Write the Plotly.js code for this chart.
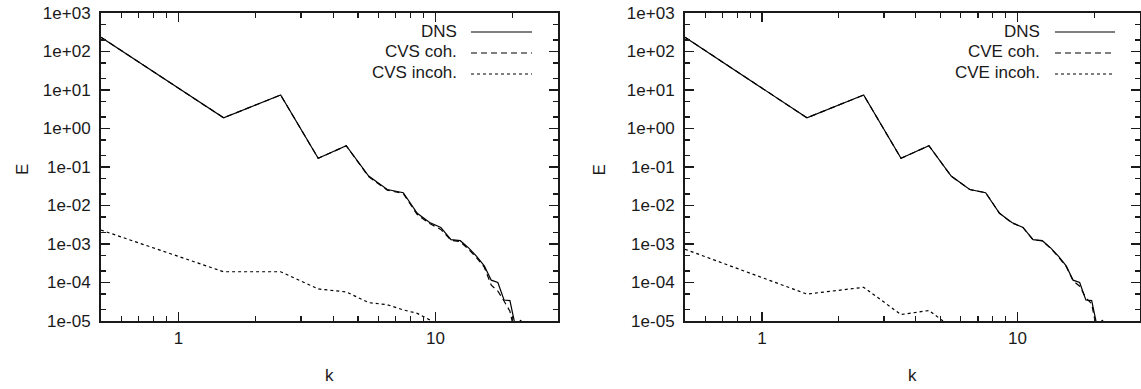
<!DOCTYPE html>
<html>
<head>
<meta charset="utf-8">
<script src="https://cdn.plot.ly/plotly-3.0.1.min.js"></script>
<style>html,body{margin:0;padding:0;background:#fff;}#chart{width:1141px;height:389px;}</style>
</head>
<body>
<div id="chart"></div>
<script>
// wavenumbers (shell centres)
const k = [0.5,1.5,2.5,3.5,4.5,5.5,6.5,7.5,8.5,9.5,10.5,11.5,12.5,13.5,14.5,15.5,16.5,17.5,18.5,19.5,20.5,21.5,22.5];

// DNS spectrum (same in both panels)
const dns = [234,1.9,7.4,0.168,0.358,0.058,0.026,0.0215,0.0063,0.0036,0.0027,0.0013,0.00122,7.8e-4,4.7e-4,2.7e-4,1.15e-4,1.0e-4,3.5e-5,3.4e-5,7e-6,1.06e-5,1e-6];

// left panel: CVS
const cvsCoh = [234,1.9,7.4,0.168,0.355,0.056,0.025,0.0205,0.0058,0.0034,0.0024,0.00125,0.00115,7.2e-4,4.3e-4,2.5e-4,8.5e-5,6e-5,3.3e-5,1.8e-5,4e-6];
const cvsIncoh = [2.3e-3,1.9e-4,1.9e-4,6.8e-5,5.7e-5,3.0e-5,2.65e-5,1.94e-5,1.58e-5,1.07e-5,7e-6];

// right panel: CVE
const cveCoh = [234,1.9,7.4,0.168,0.358,0.058,0.026,0.0215,0.0063,0.0035,0.0027,0.00128,0.0012,7.6e-4,4.5e-4,2.6e-4,1.1e-4,8e-5,4e-5,2.8e-5,5e-6];
const cveIncoh = [7.3e-4,5.0e-5,7.5e-5,1.47e-5,1.87e-5,7e-6];

// tick values / labels
const yTickVals = [1e-5,1e-4,1e-3,1e-2,1e-1,1,1e1,1e2,1e3];
const yTickText = ['1e-05','1e-04','1e-03','1e-02','1e-01','1e+00','1e+01','1e+02','1e+03'];
const yMinorVals = [2e-5,5e-5,2e-4,5e-4,2e-3,5e-3,2e-2,5e-2,0.2,0.5,2,5,20,50,200,500];
const xTickVals = [1,10];
const xTickText = ['1','10'];
const xMinorVals = [0.6,0.7,0.8,0.9,2,3,4,5,6,7,8,9,20,30];

const leftNames = ['DNS','CVS coh.','CVS incoh.'];
const rightNames = ['DNS','CVE coh.','CVE incoh.'];

const W = 1141, H = 389;
const FONT = 'Liberation Sans, Arial, Helvetica, sans-serif';
const INK = '#1a1a1a';
const dashes = ['solid','6px,4px','3px,3px'];

function tr(x, y, xa, ya, d) {
  return {x: x, y: y, xaxis: xa, yaxis: ya, type: 'scatter', mode: 'lines',
          line: {color: '#000', width: 1.2, dash: d}, showlegend: false, hoverinfo: 'skip'};
}

const data = [
  tr(k, dns, 'x', 'y', dashes[0]),
  tr(k.slice(0, cvsCoh.length), cvsCoh, 'x', 'y', dashes[1]),
  tr(k.slice(0, cvsIncoh.length), cvsIncoh, 'x', 'y', dashes[2]),
  tr(k, dns, 'x2', 'y2', dashes[0]),
  tr(k.slice(0, cveCoh.length), cveCoh, 'x2', 'y2', dashes[1]),
  tr(k.slice(0, cveIncoh.length), cveIncoh, 'x2', 'y2', dashes[2])
];

function xAxis(dom, anchor) {
  return {type: 'log', domain: dom, anchor: anchor, range: [Math.log10(0.5), Math.log10(30)],
    tickmode: 'array', tickvals: xTickVals, ticktext: xTickText,
    ticks: 'inside', ticklen: 9, tickwidth: 1.2, tickcolor: INK,
    minor: {tickmode: 'array', tickvals: xMinorVals, ticks: 'inside', ticklen: 5, tickwidth: 1.2, tickcolor: INK, showgrid: false},
    showline: true, linewidth: 2, linecolor: INK, mirror: 'ticks', showgrid: false, zeroline: false,
    tickfont: {family: FONT, size: 17, color: INK}, ticklabelstandoff: 1};
}
function yAxis(anchor) {
  return {type: 'log', domain: [68/H, 376/H], anchor: anchor, range: [-5, 3],
    tickmode: 'array', tickvals: yTickVals, ticktext: yTickText,
    ticks: 'inside', ticklen: 9, tickwidth: 1.2, tickcolor: INK,
    minor: {tickmode: 'array', tickvals: yMinorVals, ticks: 'inside', ticklen: 5, tickwidth: 1.2, tickcolor: INK, showgrid: false},
    showline: true, linewidth: 2, linecolor: INK, mirror: 'ticks', showgrid: false, zeroline: false,
    tickfont: {family: FONT, size: 17, color: INK}, ticklabelstandoff: 5};
}

const annotations = [];
const shapes = [];
function addLegend(names, textRight, lineX0, lineX1) {
  const rows = [31, 52, 73];
  names.forEach((n, i) => {
    annotations.push({xref: 'paper', yref: 'paper', x: textRight / W, y: 1 - rows[i] / H,
      xanchor: 'right', yanchor: 'middle', text: n, showarrow: false,
      font: {family: FONT, size: 17, color: INK}});
    shapes.push({type: 'line', xref: 'paper', yref: 'paper', x0: lineX0 / W, x1: lineX1 / W,
      y0: 1 - (rows[i] + 1) / H, y1: 1 - (rows[i] + 1) / H,
      line: {color: '#000', width: 1.2, dash: dashes[i]}});
  });
}
addLegend(leftNames, 459, 471, 532);
addLegend(rightNames, 1042, 1055, 1115);

function addTitles(eX, kX) {
  annotations.push({xref: 'paper', yref: 'paper', x: eX / W, y: 1 - 170 / H, xanchor: 'center', yanchor: 'middle',
    text: 'E', textangle: -90, showarrow: false, font: {family: FONT, size: 17, color: INK}});
  annotations.push({xref: 'paper', yref: 'paper', x: kX / W, y: 1 - 375 / H, xanchor: 'center', yanchor: 'middle',
    text: 'k', showarrow: false, font: {family: FONT, size: 17, color: INK}});
}
addTitles(22, 329.5);
addTitles(598.5, 912);

const layout = {
  width: W, height: H, autosize: false,
  margin: {l: 0, r: 0, t: 0, b: 0, pad: 0},
  paper_bgcolor: '#fff', plot_bgcolor: '#fff',
  showlegend: false,
  xaxis: xAxis([101/W, 558/W], 'y'),
  yaxis: yAxis('x'),
  xaxis2: xAxis([685/W, 1139.5/W], 'y2'),
  yaxis2: yAxis('x2'),
  annotations: annotations,
  shapes: shapes
};

Plotly.newPlot('chart', data, layout, {displayModeBar: false, staticPlot: true});
</script>
</body>
</html>
